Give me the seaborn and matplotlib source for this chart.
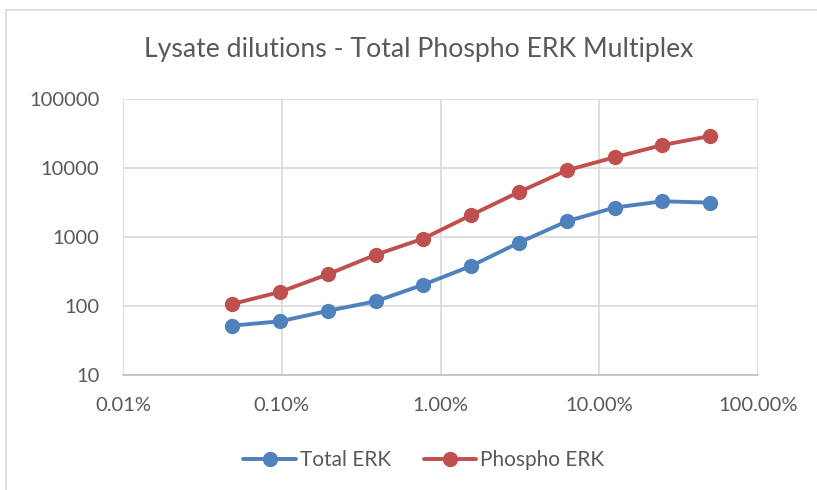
import matplotlib
matplotlib.use("Agg")
import matplotlib.pyplot as plt
import matplotlib.ticker as mticker
from matplotlib.patches import Rectangle
import seaborn as sns
import pandas as pd

dilution = [0.000488, 0.000977, 0.00195, 0.00391, 0.00781, 0.0156,
            0.03125, 0.0625, 0.125, 0.25, 0.5]
total_erk = [52, 60, 85, 117, 204, 380, 830, 1690, 2670, 3290, 3150]
phospho_erk = [107, 160, 288, 553, 950, 2080, 4490, 9260, 14300, 21500, 29100]
series_names = ["Total ERK", "Phospho ERK"]
colors = ["#4F81BD", "#C0504D"]
title = "Lysate dilutions - Total Phospho ERK Multiplex"

df = pd.DataFrame({
    "dilution": dilution * 2,
    "value": total_erk + phospho_erk,
    "series": [series_names[0]] * len(dilution) + [series_names[1]] * len(dilution),
})

sns.set_theme(style="white")
plt.rcParams["font.family"] = ["Lato", "DejaVu Sans"]

fig = plt.figure(figsize=(8.17, 4.9), dpi=100)
ax = fig.add_axes([123 / 817, 1 - 375 / 490, (758 - 123) / 817, (375 - 99) / 490])

sns.lineplot(data=df, x="dilution", y="value", hue="series", hue_order=series_names,
             palette=colors, marker="o", markersize=11, markeredgewidth=0,
             linewidth=2.8, ax=ax, legend=True)

ax.set_xscale("log")
ax.set_yscale("log")
ax.set_xlim(0.0001, 1)
ax.set_ylim(10, 100000)
ax.xaxis.set_major_locator(mticker.LogLocator(base=10, numticks=10))
ax.xaxis.set_minor_locator(mticker.NullLocator())
ax.yaxis.set_major_locator(mticker.LogLocator(base=10, numticks=10))
ax.yaxis.set_minor_locator(mticker.NullLocator())
ax.xaxis.set_major_formatter(mticker.FuncFormatter(lambda v, p: f"{v*100:.2f}%"))
ax.yaxis.set_major_formatter(mticker.FuncFormatter(lambda v, p: f"{int(round(v))}"))

ax.grid(True, which="major", color="#D9D9D9", linewidth=1.2)
for s in ["top", "right", "left"]:
    ax.spines[s].set_visible(False)
ax.spines["bottom"].set_color("#BFBFBF")
ax.spines["bottom"].set_linewidth(1.2)
ax.tick_params(axis="both", colors="#595959", labelsize=14.5, length=0)
ax.tick_params(axis="y", pad=17)
ax.tick_params(axis="x", pad=16)
ax.set_xlabel("")
ax.set_ylabel("")

fig.text(419 / 817, 1 - 50 / 490, title, ha="center", va="center",
         fontsize=19.2, color="#595959")

handles, labels = ax.get_legend_handles_labels()
ax.legend(handles, labels, loc="center", bbox_to_anchor=(424 / 817, 1 - 460 / 490),
          bbox_transform=fig.transFigure,
          ncol=2, frameon=False, fontsize=15, labelcolor="#595959",
          handlelength=2.5, columnspacing=1.6, handletextpad=0.2)

fig.patches.append(Rectangle((6 / 817, -0.05), 1.05, 1 - 10 / 490 + 0.05,
                             transform=fig.transFigure, fill=False,
                             edgecolor="#D9D9D9", linewidth=1.2))

fig.savefig("out.png", dpi=100)
